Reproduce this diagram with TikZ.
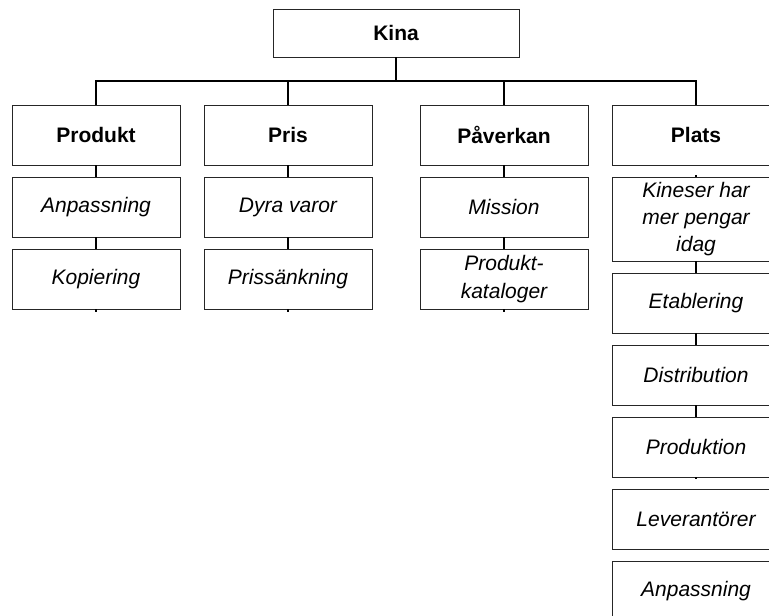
\documentclass[tikz,border=0pt]{standalone}
\usepackage{fontspec}
\setmainfont{Liberation Sans}
\usetikzlibrary{positioning}

\begin{document}
\begin{tikzpicture}[
        x=0.5pt, y=-0.5pt,
        box/.style={draw=black!85, line width=0.45pt, minimum width=84pt,
                    minimum height=30pt, inner sep=1pt, align=center,
                    font=\fontsize{10.5}{13.6}\selectfont},
        head/.style={box, font=\fontsize{10.5}{13.6}\selectfont\bfseries},
        item/.style={box, font=\fontsize{10.5}{13.6}\selectfont\itshape},
        conn/.style={draw=black, line width=1.4pt},
        stub/.style={draw=black, line width=0.6pt},
      ]
        \useasboundingbox (0,0) rectangle (769,615);
        \clip (0,0) rectangle (769,615);

        \node[head, minimum width=123pt, minimum height=24pt] (kina) at (396,33) {Kina};
        \coordinate (bus) at (396,81);

        \node[head] (produkt)  at (96,135)  {Produkt};
        \node[head] (pris)     at (288,135) {Pris};
        \node[head] (paverkan) at (504,135) {Påverkan};
        \node[head] (plats)    at (696,135) {Plats};

        \node[item] (anp1) at (96,207) {Anpassning};
        \node[item] (kop)  at (96,279) {Kopiering};

        \node[item] (dyra)  at (288,207) {Dyra varor};
        \node[item] (sank)  at (288,279) {Prissänkning};

        \node[item] (mission) at (504,207) {Mission};
        \node[item] (katalog) at (504,279) {Produkt-\\kataloger};

        \node[item, minimum height=42pt] (kineser) at (696,219) {Kineser har\\mer pengar\\idag};
        \node[item] (etab) at (696,303) {Etablering};
        \node[item] (dist) at (696,375) {Distribution};
        \node[item] (prod) at (696,447) {Produktion};
        \node[item] (lev)  at (696,519) {Leverantörer};
        \node[item] (anp2) at (696,591) {Anpassning};

        \draw[conn] (kina.south) -- (bus);
        \foreach \n in {produkt, pris, paverkan, plats}
          \draw[conn] (\n.north) |- (bus);

        \draw[conn] (produkt) -- (anp1);
        \draw[conn] (anp1) -- (kop);
        \draw[conn] (pris) -- (dyra);
        \draw[conn] (dyra) -- (sank);
        \draw[conn] (paverkan) -- (mission);
        \draw[conn] (mission) -- (katalog);
        \draw[conn] (kineser) -- (etab);
        \draw[conn] (etab) -- (dist);
        \draw[conn] (dist) -- (prod);

        \draw[stub] (kop.south) -- ++(0,3);
        \draw[stub] (sank.south) -- ++(0,3);
        \draw[stub] (katalog.south) -- ++(0,3);
        \draw[stub] (kineser.north) -- ++(0,-2);
        \draw[stub] (prod.south) -- ++(0,2);
      \end{tikzpicture}
\end{document}
